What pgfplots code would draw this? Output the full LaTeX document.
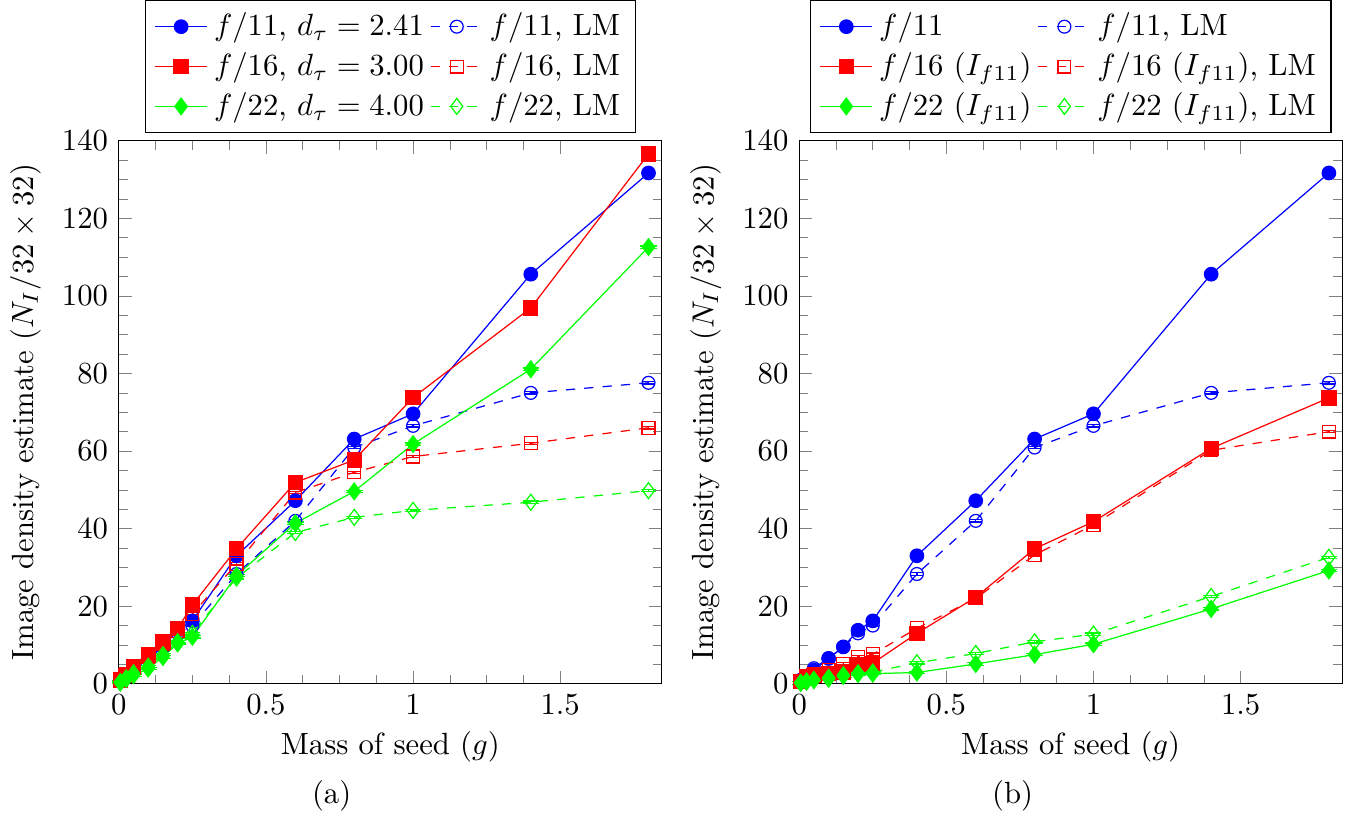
\documentclass[border=0pt]{standalone}
\usepackage{pgfplots}
\pgfplotsset{compat=1.18}
\usepackage{pgfplotstable}
\pgfplotstableread{
x a aLM b bLM c cLM
0.005 0.8 1.0 1.0 1.2 0.3 0.5
0.025 1.8 2.0 2.2 2.5 1.2 1.5
0.05 3.5 4.0 4.4 4.2 2.2 2.8
0.1 6.5 6.6 7.4 7.0 3.9 4.5
0.15 9.5 9.5 10.8 10.3 6.9 7.5
0.2 13.8 13.0 14.2 13.5 10.4 10.8
0.25 16.2 15.0 20.3 18.0 12.1 13.0
0.4 33.0 28.3 34.8 30.9 27.9 27.3
0.6 47.2 42.0 51.9 49.3 41.4 39.0
0.8 63.1 60.9 57.7 54.5 49.6 42.9
1.0 69.6 66.5 73.8 58.6 61.8 44.7
1.4 105.6 75.0 96.9 62.0 81.1 46.8
1.8 131.7 77.6 136.6 66.0 112.6 49.8
}\leftdata
\pgfplotstableread{
x a aLM b bLM c cLM
0.005 0.8 1.0 0.5 0.8 0.2 0.3
0.025 1.8 2.0 1.5 2.0 0.5 0.7
0.05 3.5 4.0 2.2 2.5 0.9 1.1
0.1 6.5 6.6 2.6 3.5 1.3 1.6
0.15 9.5 9.5 3.0 5.1 2.0 2.3
0.2 13.8 13.0 5.0 6.9 2.5 2.8
0.25 16.2 15.0 5.3 7.6 2.6 3.0
0.4 33.0 28.3 13.0 14.3 2.9 5.4
0.6 47.2 42.0 22.3 22.0 5.1 7.8
0.8 63.1 60.9 34.8 33.2 7.5 10.8
1.0 69.6 66.5 41.8 41.0 10.2 12.8
1.4 105.6 75.0 60.7 60.2 19.3 22.5
1.8 131.7 77.6 73.7 65.0 29.2 32.6
}\rightdata
\pgfplotsset{
  myax/.style={
    width=177pt, height=177pt, scale only axis,
    xmin=0, xmax=1.845, ymin=0, ymax=140,
    xtick={0,0.5,1,1.5}, ytick={0,20,...,140},
    minor x tick num=3, minor y tick num=3,
    xlabel={Mass of seed ($g$)},
    xlabel style={yshift=1.2pt},
    ylabel={Image density estimate ($N_I/32\times 32$)},
    legend columns=2, legend cell align=left,
    legend style={at={(0.5,1)}, anchor=south, yshift=2.5pt, draw=black},
    clip=false,
    every axis plot/.append style={error bars/y dir=both, error bars/y fixed=0.3},
  },
  sA/.style={blue, mark=*, mark size=2.2pt},
  sALM/.style={blue, dashed, mark=o, mark size=2.1pt, mark options={solid}},
  sB/.style={red, mark=square*, mark size=2.3pt},
  sBLM/.style={red, dashed, mark=square, mark size=2.1pt, mark options={solid}},
  sC/.style={green, mark=diamond*, mark size=2.7pt},
  sCLM/.style={green, dashed, mark=diamond, mark size=2.6pt, mark options={solid}},
}
\begin{document}
\begin{tikzpicture}
\begin{axis}[myax, name=A]
\addplot[sA] table[x=x,y=a]{\leftdata};
\addlegendentry{$f/11$, $d_\tau=2.41$}
\addplot[sALM] table[x=x,y=aLM]{\leftdata};
\addlegendentry{$f/11$, LM}
\addplot[sB] table[x=x,y=b]{\leftdata};
\addlegendentry{$f/16$, $d_\tau=3.00$}
\addplot[sBLM] table[x=x,y=bLM]{\leftdata};
\addlegendentry{$f/16$, LM}
\addplot[sC] table[x=x,y=c]{\leftdata};
\addlegendentry{$f/22$, $d_\tau=4.00$}
\addplot[sCLM] table[x=x,y=cLM]{\leftdata};
\addlegendentry{$f/22$, LM}
\node at (rel axis cs:0.392,-0.207) {(a)};
\end{axis}
\begin{axis}[myax, name=B, at={(221.8pt,0pt)}]
\addplot[sA] table[x=x,y=a]{\rightdata};
\addlegendentry{$f/11$}
\addplot[sALM] table[x=x,y=aLM]{\rightdata};
\addlegendentry{$f/11$, LM}
\addplot[sB] table[x=x,y=b]{\rightdata};
\addlegendentry{$f/16$ ($I_{f11}$)}
\addplot[sBLM] table[x=x,y=bLM]{\rightdata};
\addlegendentry{$f/16$ ($I_{f11}$), LM}
\addplot[sC] table[x=x,y=c]{\rightdata};
\addlegendentry{$f/22$ ($I_{f11}$)}
\addplot[sCLM] table[x=x,y=cLM]{\rightdata};
\addlegendentry{$f/22$ ($I_{f11}$), LM}
\node at (rel axis cs:0.393,-0.207) {(b)};
\end{axis}
\path ([xshift=-34pt,yshift=-47.5pt]A.south west) -- ([xshift=4.2pt]B.south east);
\end{tikzpicture}
\end{document}
